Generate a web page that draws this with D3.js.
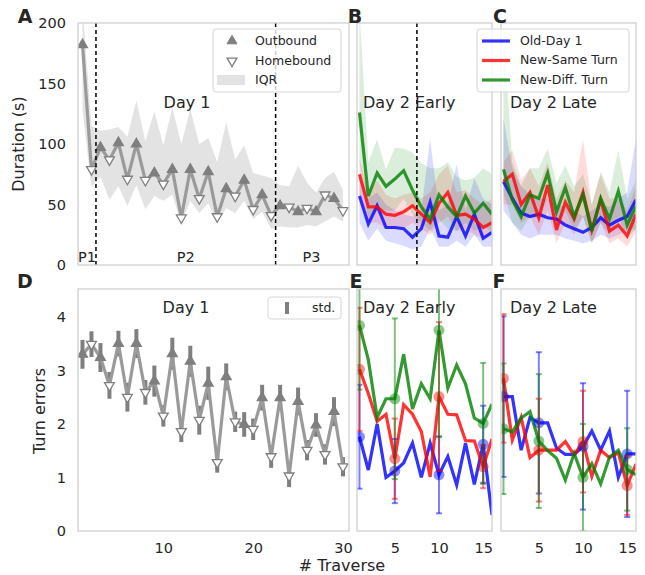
<!DOCTYPE html>
<html>
<head>
<meta charset="utf-8">
<script src="https://cdn.jsdelivr.net/npm/d3@7"></script>
<style>
  body { margin: 0; background: #fff; font-family: "DejaVu Sans", sans-serif; }
  text { fill: #262626; }
</style>
</head>
<body>
<svg id="chart" width="645" height="575"></svg>
<script>
// ---- Day 1 (panels A, D) ----
var traverseDay1 = d3.range(1, 31);
var durationDay1 = [182, 79, 97, 87, 101, 71, 100, 70, 76, 67, 79, 39, 79, 55, 77, 40, 63, 57, 70, 46, 58, 41, 49, 48, 44, 47, 44, 58, 55, 45];
var iqrLowDay1 = [128, 64, 73, 54, 65, 49, 66, 46, 57, 53, 58, 34, 53, 43, 51, 35, 47, 43, 53, 38, 44, 30, 32, 31, 31, 33, 32, 36, 40, 36];
var iqrHighDay1 = [215, 115, 111, 112, 114, 106, 136, 102, 127, 99, 130, 100, 129, 100, 105, 85, 118, 87, 99, 76, 74, 72, 66, 65, 82, 68, 60, 72, 77, 62];
var errorsDay1 = [3.30, 3.49, 3.24, 2.72, 3.50, 2.50, 3.50, 2.59, 2.80, 2.15, 3.31, 1.86, 3.17, 2.07, 2.76, 1.28, 2.88, 2.04, 1.99, 1.90, 2.49, 1.39, 2.49, 1.03, 2.42, 1.51, 1.98, 1.43, 2.23, 1.20];
var errorsStdDay1 = [0.27, 0.24, 0.27, 0.25, 0.24, 0.27, 0.27, 0.23, 0.29, 0.2, 0.3, 0.2, 0.29, 0.27, 0.31, 0.19, 0.25, 0.19, 0.23, 0.2, 0.24, 0.21, 0.24, 0.21, 0.26, 0.19, 0.22, 0.19, 0.27, 0.18];
var phaseBreaks = [2.5, 22.5];
var phaseLabels = [{ name: "P1", x: 1.5 }, { name: "P2", x: 12.5 }, { name: "P3", x: 26.5 }];

// ---- Day 2 (panels B, C, E, F) ----
var traverseDay2 = d3.range(1, 17);
var conditions = ["Old-Day 1", "New-Same Turn", "New-Diff. Turn"];
var condColors = ["#0000ff", "#ff0000", "#008000"];

var durEarly = [
  [57, 34, 49, 31, 31, 30, 23, 30, 52, 24, 23, 40, 24, 42, 22, 27],
  [75, 48, 48, 42, 41, 44, 49, 42, 35, 51, 60, 41, 42, 38, 31, 35],
  [126, 57, 76, 65, 71, 78, 62, 48, 38, 58, 48, 40, 57, 43, 51, 42]
];
var durEarlyLow = [
  [35, 20, 30, 20, 18, 16, 13, 15, 30, 15, 15, 20, 15, 25, 15, 15],
  [55, 35, 35, 30, 30, 30, 35, 30, 25, 35, 40, 28, 30, 25, 22, 25],
  [85, 38, 48, 45, 45, 55, 42, 35, 28, 38, 30, 28, 35, 28, 32, 28]
];
var durEarlyHigh = [
  [75, 55, 60, 50, 45, 42, 40, 45, 104, 45, 50, 83, 45, 72, 55, 50],
  [88, 60, 70, 58, 55, 58, 60, 55, 60, 75, 82, 60, 62, 55, 50, 55],
  [210, 85, 104, 79, 97, 96, 93, 84, 80, 80, 85, 73, 70, 72, 80, 75]
];
var durLate = [
  [69, 55, 43, 40, 42, 39, 38, 33, 30, 27, 31, 39, 33, 37, 40, 54],
  [69, 75, 50, 60, 39, 66, 29, 52, 38, 60, 29, 54, 28, 33, 24, 42],
  [79, 54, 40, 58, 55, 76, 44, 64, 40, 58, 28, 55, 38, 61, 33, 49]
];
var durLateLow = [
  [45, 35, 25, 22, 25, 25, 25, 22, 20, 18, 20, 25, 22, 25, 28, 30],
  [50, 50, 35, 40, 25, 45, 18, 35, 25, 40, 18, 35, 18, 22, 15, 28],
  [60, 35, 28, 40, 38, 55, 30, 45, 28, 40, 18, 35, 25, 40, 22, 30]
];
var durLateHigh = [
  [121, 80, 65, 58, 55, 55, 50, 48, 45, 40, 45, 50, 48, 55, 60, 105],
  [85, 95, 70, 80, 65, 85, 55, 70, 60, 104, 50, 75, 55, 55, 45, 65],
  [195, 85, 65, 80, 80, 96, 68, 82, 65, 75, 50, 77, 60, 95, 55, 70]
];
var errEarly = [
  [1.76, 1.14, 2.0, 1.0, 1.12, 1.27, 1.64, 1.0, 1.64, 1.05, 1.39, 0.86, 1.64, 0.87, 1.62, 0.3],
  [3.02, 2.57, 2.05, 2.18, 1.35, 2.36, 2.18, 1.86, 1.01, 2.51, 2.18, 2.17, 1.69, 1.68, 1.2, 1.72],
  [3.84, 3.2, 2.12, 2.47, 2.47, 3.3, 2.28, 2.75, 2.47, 3.75, 2.67, 3.1, 2.75, 2.11, 2.01, 2.37]
];
var errLate = [
  [2.51, 2.51, 1.51, 2.12, 2.02, 2.02, 1.55, 1.43, 1.43, 1.58, 1.87, 1.51, 1.87, 1.0, 1.44, 1.44],
  [2.85, 1.7, 2.12, 1.37, 1.51, 1.51, 1.51, 1.67, 1.42, 1.67, 1.02, 1.51, 1.37, 1.46, 0.85, 1.25],
  [1.91, 1.85, 2.11, 2.23, 1.68, 1.5, 1.36, 0.95, 1.45, 1.0, 1.26, 0.88, 1.38, 1.51, 1.15, 1.05]
];
var stdTraverses = [1, 5, 10, 15];
var errEarlyStd = [
  [0.97, 0.6, 0.72, 0.72],
  [1.15, 0.75, 1.39, 0.4],
  [1.2, 1.5, 2.0, 1.13]
];
var errLateStd = [
  [1.5, 1.32, 1.18, 1.18],
  [1.2, 0.96, 0.95, 0.55],
  [1.22, 1.25, 1.0, 0.77]
];
var earlyLateBreak = 7.5;

var svg = d3.select("#chart");
var lineGray = "#9a9a9a", markGray = "#7f7f7f", frameColor = "#cfcfcf";
var clipId = 0;

function makePanel(x0, x1, y0, y1, xdom, ydom) {
  var x = d3.scaleLinear().domain(xdom).range([x0, x1]);
  var y = d3.scaleLinear().domain(ydom).range([y1, y0]);
  var id = "clip" + (clipId++);
  svg.append("clipPath").attr("id", id)
    .append("rect").attr("x", x0).attr("y", y0).attr("width", x1 - x0).attr("height", y1 - y0);
  var g = svg.append("g").attr("clip-path", "url(#" + id + ")");
  var frame = function() {
    svg.append("rect").attr("x", x0).attr("y", y0).attr("width", x1 - x0).attr("height", y1 - y0)
      .attr("fill", "none").attr("stroke", frameColor).attr("stroke-width", 1.3);
  };
  return { x: x, y: y, g: g, frame: frame, x0: x0, x1: x1, y0: y0, y1: y1 };
}

function yAxis(p, ticks) {
  var ax = svg.append("g").attr("transform", "translate(" + p.x0 + ",0)")
    .call(d3.axisLeft(p.y).tickValues(ticks).tickSize(0).tickPadding(12).tickFormat(d3.format("d")));
  ax.select(".domain").remove();
  ax.selectAll("text").style("font-size", "14.5px").style("font-family", "DejaVu Sans").attr("fill", "#262626");
}

function xAxis(p, ticks) {
  var ax = svg.append("g").attr("transform", "translate(0," + p.y1 + ")")
    .call(d3.axisBottom(p.x).tickValues(ticks).tickSize(0).tickPadding(12).tickFormat(d3.format("d")));
  ax.select(".domain").remove();
  ax.selectAll("text").style("font-size", "14.5px").style("font-family", "DejaVu Sans").attr("fill", "#262626");
}

function label(txt, x, y, size, anchor, weight) {
  svg.append("text").attr("x", x).attr("y", y).text(txt)
    .style("font-size", size + "px").style("font-weight", weight || "normal")
    .attr("text-anchor", anchor || "start").attr("dominant-baseline", "middle");
}

var triUp = d3.symbol(d3.symbolTriangle, 42)();

function day1Markers(p, values) {
  p.g.selectAll(".mk").data(values).enter().append("path")
    .attr("d", triUp)
    .attr("transform", function(d, i) {
      var rot = i % 2 === 0 ? 0 : 180;
      return "translate(" + p.x(traverseDay1[i]) + "," + p.y(d) + ") rotate(" + rot + ")";
    })
    .attr("fill", function(d, i) { return i % 2 === 0 ? markGray : "#fff"; })
    .attr("stroke", markGray).attr("stroke-width", 1.3);
}

// ---------- Panel A ----------
var pA = makePanel(78, 349, 23, 265, [0.5, 30.67], [0, 200]);
pA.g.append("path").datum(traverseDay1)
  .attr("d", d3.area().x(function(d) { return pA.x(d); })
    .y0(function(d, i) { return pA.y(iqrLowDay1[i]); })
    .y1(function(d, i) { return pA.y(iqrHighDay1[i]); }))
  .attr("fill", "#e3e3e3");
pA.g.append("path").datum(durationDay1)
  .attr("d", d3.line().x(function(d, i) { return pA.x(traverseDay1[i]); }).y(function(d) { return pA.y(d); }))
  .attr("fill", "none").attr("stroke", lineGray).attr("stroke-width", 3.2);
day1Markers(pA, durationDay1);
pA.g.selectAll(".brk").data(phaseBreaks).enter().append("line")
  .attr("x1", function(d) { return pA.x(d); }).attr("x2", function(d) { return pA.x(d); })
  .attr("y1", pA.y0).attr("y2", pA.y1)
  .attr("stroke", "#000").attr("stroke-width", 1.5).attr("stroke-dasharray", "4,3");
phaseLabels.forEach(function(d) { label(d.name, pA.x(d.x), 258, 14.5, "middle"); });
pA.frame();
yAxis(pA, [0, 50, 100, 150, 200]);
label("Day 1", 187, 103, 16, "middle");

// legend A
var legA = svg.append("g");
legA.append("rect").attr("x", 213).attr("y", 29).attr("width", 128).attr("height", 63).attr("rx", 3)
  .attr("fill", "#fff").attr("fill-opacity", 0.8).attr("stroke", "#d6d6d6");
legA.append("path").attr("d", triUp).attr("transform", "translate(232,41)").attr("fill", markGray).attr("stroke", markGray);
legA.append("path").attr("d", triUp).attr("transform", "translate(232,61) rotate(180)").attr("fill", "#fff").attr("stroke", markGray).attr("stroke-width", 1.3);
legA.append("rect").attr("x", 217).attr("y", 75).attr("width", 28).attr("height", 10).attr("fill", "#e3e3e3");
label("Outbound", 255, 41, 12.5);
label("Homebound", 255, 61, 12.5);
label("IQR", 255, 80, 12.5);

// ---------- Panels B and C ----------
function durationPanel(x0, x1, means, lows, highs) {
  var p = makePanel(x0, x1, 23, 265, [0.72, 16.0], [0, 200]);
  means.forEach(function(series, c) {
    p.g.append("path").datum(traverseDay2)
      .attr("d", d3.area().x(function(d) { return p.x(d); })
        .y0(function(d, i) { return p.y(lows[c][i]); })
        .y1(function(d, i) { return p.y(highs[c][i]); }))
      .attr("fill", condColors[c]).attr("fill-opacity", 0.14);
  });
  means.forEach(function(series, c) {
    p.g.append("path").datum(series)
      .attr("d", d3.line().x(function(d, i) { return p.x(traverseDay2[i]); }).y(function(d) { return p.y(d); }))
      .attr("fill", "none").attr("stroke", condColors[c]).attr("stroke-opacity", 0.8).attr("stroke-width", 3.2);
  });
  return p;
}
var pB = durationPanel(357, 492, durEarly, durEarlyLow, durEarlyHigh);
pB.g.append("line").attr("x1", pB.x(earlyLateBreak)).attr("x2", pB.x(earlyLateBreak))
  .attr("y1", pB.y0).attr("y2", pB.y1)
  .attr("stroke", "#000").attr("stroke-width", 1.5).attr("stroke-dasharray", "4,3");
pB.frame();
label("Day 2 Early", 363, 103, 16);

var pC = durationPanel(501, 636, durLate, durLateLow, durLateHigh);
pC.frame();
label("Day 2 Late", 510, 103, 16);

// legend B/C
var legB = svg.append("g");
legB.append("rect").attr("x", 477).attr("y", 29).attr("width", 152).attr("height", 63).attr("rx", 3)
  .attr("fill", "#fff").attr("fill-opacity", 0.8).attr("stroke", "#d6d6d6");
conditions.forEach(function(name, c) {
  var yy = 41 + c * 19.5;
  legB.append("line").attr("x1", 482).attr("x2", 510).attr("y1", yy).attr("y2", yy)
    .attr("stroke", condColors[c]).attr("stroke-opacity", 0.8).attr("stroke-width", 3.2);
  label(name, 520, yy, 12.5);
});

// ---------- Panel D ----------
var pD = makePanel(78, 349, 289, 531, [0.5, 30.67], [0, 4.52]);
pD.g.selectAll(".eb").data(errorsDay1).enter().append("line")
  .attr("x1", function(d, i) { return pD.x(traverseDay1[i]); })
  .attr("x2", function(d, i) { return pD.x(traverseDay1[i]); })
  .attr("y1", function(d, i) { return pD.y(d - errorsStdDay1[i]); })
  .attr("y2", function(d, i) { return pD.y(d + errorsStdDay1[i]); })
  .attr("stroke", markGray).attr("stroke-width", 4);
pD.g.append("path").datum(errorsDay1)
  .attr("d", d3.line().x(function(d, i) { return pD.x(traverseDay1[i]); }).y(function(d) { return pD.y(d); }))
  .attr("fill", "none").attr("stroke", lineGray).attr("stroke-width", 3.2);
day1Markers(pD, errorsDay1);
pD.frame();
yAxis(pD, [0, 1, 2, 3, 4]);
xAxis(pD, [10, 20, 30]);
label("Day 1", 186, 308, 16, "middle");
var legD = svg.append("g");
legD.append("rect").attr("x", 268).attr("y", 297).attr("width", 73).attr("height", 22).attr("rx", 3)
  .attr("fill", "#fff").attr("fill-opacity", 0.8).attr("stroke", "#d6d6d6");
legD.append("line").attr("x1", 287).attr("x2", 287).attr("y1", 302).attr("y2", 314)
  .attr("stroke", markGray).attr("stroke-width", 4);
label("std.", 312, 308, 12.5);

// ---------- Panels E and F ----------
function errorPanel(x0, x1, means, stds) {
  var p = makePanel(x0, x1, 289, 531, [0.72, 16.0], [0, 4.52]);
  means.forEach(function(series, c) {
    p.g.append("path").datum(series)
      .attr("d", d3.line().x(function(d, i) { return p.x(traverseDay2[i]); }).y(function(d) { return p.y(d); }))
      .attr("fill", "none").attr("stroke", condColors[c]).attr("stroke-opacity", 0.8).attr("stroke-width", 3.2);
  });
  means.forEach(function(series, c) {
    stdTraverses.forEach(function(t, k) {
      var m = series[t - 1], s = stds[c][k];
      var xx = p.x(t);
      var gg = p.g.append("g").attr("stroke", condColors[c]).attr("stroke-opacity", 0.5).attr("stroke-width", 2);
      gg.append("line").attr("x1", xx).attr("x2", xx).attr("y1", p.y(m - s)).attr("y2", p.y(m + s));
      [m - s, m + s].forEach(function(v) {
        gg.append("line").attr("x1", xx - 3).attr("x2", xx + 3).attr("y1", p.y(v)).attr("y2", p.y(v));
      });
      p.g.append("circle").attr("cx", xx).attr("cy", p.y(m)).attr("r", 5.5)
        .attr("fill", condColors[c]).attr("fill-opacity", 0.45);
    });
  });
  p.frame();
  xAxis(p, [5, 10, 15]);
  return p;
}
var pE = errorPanel(357, 492, errEarly, errEarlyStd);
label("Day 2 Early", 363, 308, 16);
var pF = errorPanel(501, 636, errLate, errLateStd);
label("Day 2 Late", 510, 308, 16);

// ---------- axis titles and panel letters ----------
svg.append("text").attr("transform", "translate(19,144) rotate(-90)").attr("text-anchor", "middle")
  .attr("dominant-baseline", "middle").style("font-size", "16px").text("Duration (s)");
svg.append("text").attr("transform", "translate(40,411) rotate(-90)").attr("text-anchor", "middle")
  .attr("dominant-baseline", "middle").style("font-size", "16px").text("Turn errors");
label("# Traverse", 342, 566, 16, "middle");

[["A", 25, 17], ["B", 355, 17], ["C", 500, 17], ["D", 25, 282], ["E", 356, 282], ["F", 499, 282]].forEach(function(d) {
  label(d[0], d[1], d[2], 19, "middle", "bold");
});
</script>
</body>
</html>
